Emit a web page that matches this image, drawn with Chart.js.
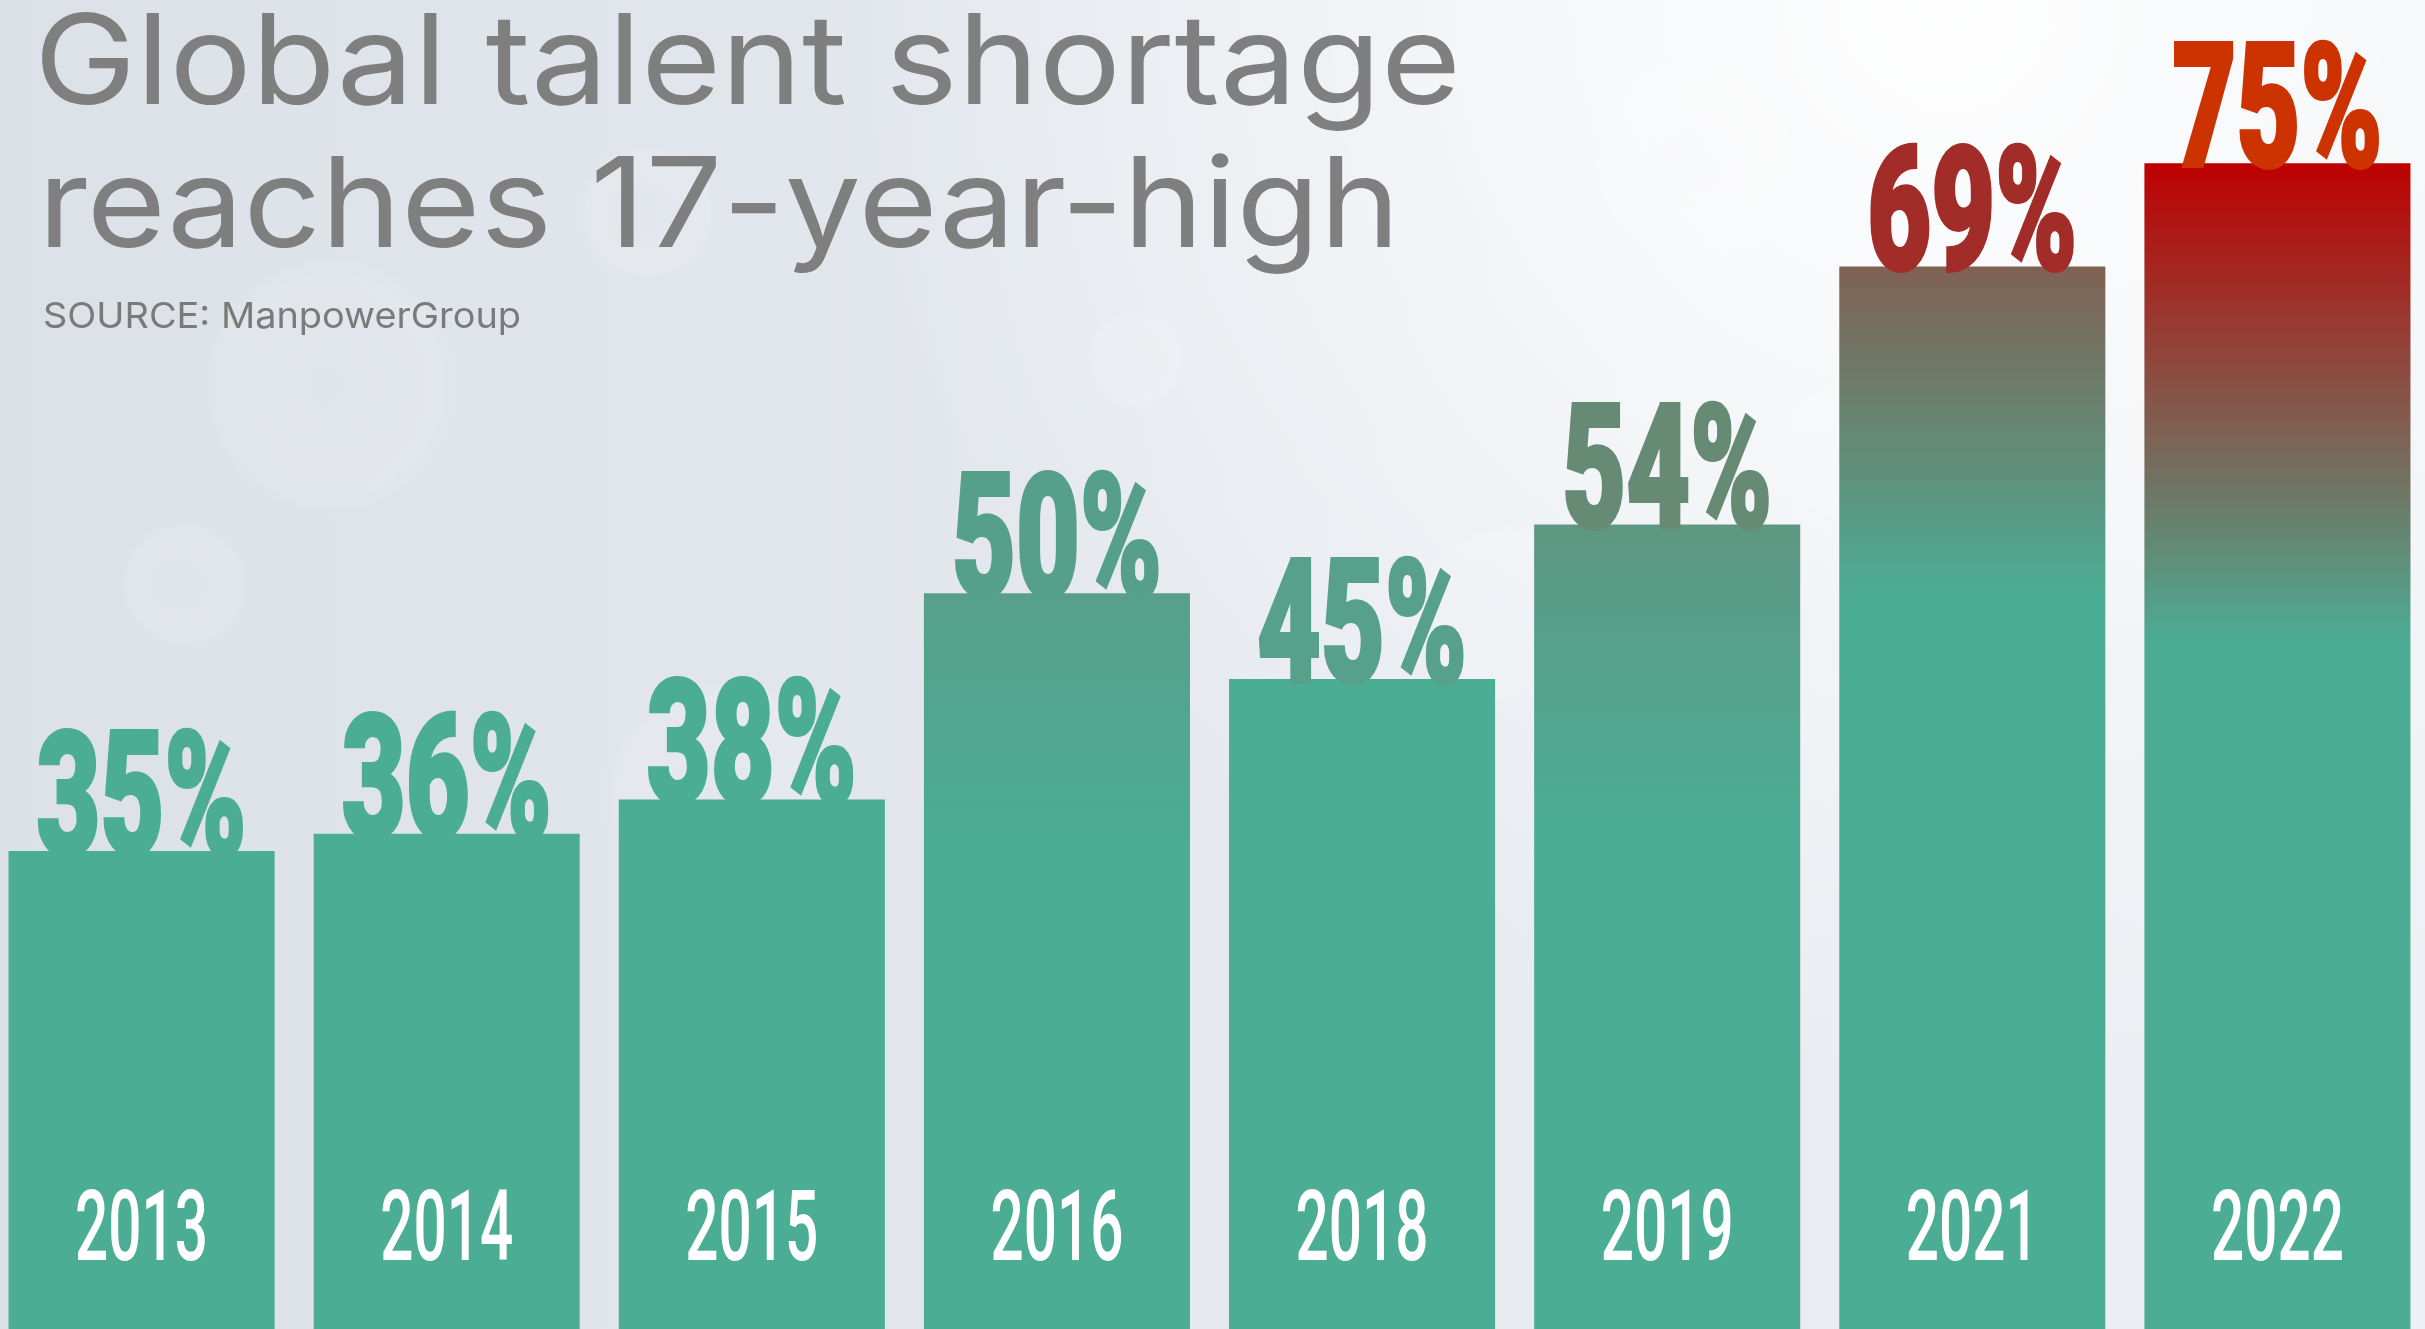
<!DOCTYPE html>
<html>
<head>
<meta charset="utf-8">
<title>Global talent shortage</title>
<script src="https://cdn.jsdelivr.net/npm/chart.js@4/dist/chart.umd.min.js"></script>
<style>
    html, body { margin: 0; padding: 0; overflow: hidden; background: #e4e8ee; }
    canvas { display: block; margin-left: -11px; }
</style>
</head>
<body>
<canvas id="shortageChart" width="2441" height="1329"></canvas>
<script>
// Datos
const years = ['2013', '2014', '2015', '2016', '2018', '2019', '2021', '2022'];
const shortage = [35, 36, 38, 50, 45, 54, 69, 75];
const titleLines = ['Global talent shortage', 'reaches 17-year-high'];
const sourceText = 'SOURCE: ManpowerGroup';

// Colores
const teal = '#4bad94';
const barTopColors = ['#4bad94', '#4bad94', '#4bad94', '#57a08a', '#4bad94', '#5e9782', '#806153', '#be0000'];
const barFade = [1, 1, 1, 260, 1, 300, 330, 480];
const labelColors = ['#4bad94', '#4bad94', '#4bad94', '#56a08a', '#57a18a', '#668a74', '#a22c28', '#cc3300'];

// el lienzo empieza 11px a la izquierda de la ventana
const shiftX = 11;

// fondo con reflejos
const backgroundPlugin = {
    id: 'background',
    beforeDraw(chart) {
        const c = chart.ctx, w = chart.width, h = chart.height;
        c.save();
        const g = c.createLinearGradient(0, 0, w, 0);
        g.addColorStop(0, '#dce1e8');
        g.addColorStop(0.5, '#e5e9ee');
        g.addColorStop(1, '#edf0f4');
        c.fillStyle = g;
        c.fillRect(0, 0, w, h);
        const r = c.createRadialGradient(w * 0.8, 0, 0, w * 0.8, 0, w * 0.45);
        r.addColorStop(0, 'rgba(255,255,255,0.95)');
        r.addColorStop(1, 'rgba(255,255,255,0)');
        c.fillStyle = r;
        c.fillRect(0, 0, w, h);
        const spots = [[0.14, 0.29, 130], [0.08, 0.44, 65], [0.27, 0.16, 70], [0.47, 0.27, 50],
                       [0.7, 0.12, 110], [0.76, 0.34, 70], [0.62, 0.46, 90], [0.3, 0.6, 120]];
        spots.forEach(s => {
            const x = s[0] * w, y = s[1] * h;
            const sg = c.createRadialGradient(x, y, 0, x, y, s[2]);
            sg.addColorStop(0, 'rgba(255,255,255,0.05)');
            sg.addColorStop(0.85, 'rgba(255,255,255,0.14)');
            sg.addColorStop(1, 'rgba(255,255,255,0)');
            c.beginPath();
            c.arc(x, y, s[2], 0, Math.PI * 2);
            c.fillStyle = sg;
            c.fill();
        });
        c.restore();
    }
};

// texto estrecho ajustado a un ancho
function drawText(c, text, x, y, font, color, targetWidth, align, stroke) {
    c.save();
    c.font = font;
    c.fillStyle = color;
    c.textBaseline = 'alphabetic';
    const w = c.measureText(text).width;
    const sx = targetWidth / w;
    c.translate(x, y);
    c.scale(sx, 1);
    c.textAlign = align;
    c.fillText(text, 0, 0);
    if (stroke) {
        c.strokeStyle = color;
        c.lineWidth = stroke;
        c.lineJoin = 'miter';
        c.strokeText(text, 0, 0);
    }
    c.restore();
}

// títulos, etiquetas de valor y años
const labelsPlugin = {
    id: 'labels',
    afterDatasetsDraw(chart) {
        const c = chart.ctx;
        drawText(c, titleLines[0], 34 + shiftX, 104, '400 125px Inter', '#7f7f7f', 1427, 'left');
        drawText(c, titleLines[1], 38 + shiftX, 247, '400 125px Inter', '#7f7f7f', 1362, 'left');
        drawText(c, sourceText, 43 + shiftX, 328, '400 36px Inter', '#7a7a7a', 478, 'left');

        const meta = chart.getDatasetMeta(0);
        meta.data.forEach((bar, i) => {
            drawText(c, shortage[i] + '%', bar.x, bar.y + 3, '900 172px Roboto', labelColors[i], 210, 'center', 4);
            drawText(c, years[i], bar.x, 1260, '500 98px Roboto', '#ffffff', 133, 'center');
        });
    }
};

new Chart(document.getElementById('shortageChart'), {
    type: 'bar',
    data: {
        labels: years,
        datasets: [{
            label: 'Global talent shortage',
            data: shortage,
            backgroundColor: function (ctx) {
                const i = ctx.dataIndex;
                const chart = ctx.chart;
                if (!chart.scales || !chart.scales.y || barFade[i] <= 1) return teal;
                const top = chart.scales.y.getPixelForValue(shortage[i]);
                const g = chart.ctx.createLinearGradient(0, top, 0, top + barFade[i]);
                g.addColorStop(0, barTopColors[i]);
                g.addColorStop(1, teal);
                return g;
            },
            borderWidth: 0,
            barPercentage: 0.872,
            categoryPercentage: 1
        }]
    },
    options: {
        responsive: false,
        devicePixelRatio: 1,
        animation: false,
        layout: { padding: 0 },
        plugins: {
            legend: { display: false },
            tooltip: { enabled: false },
            title: { display: false }
        },
        scales: {
            x: { display: false, offset: true },
            y: { display: false, min: 7.2, max: 84.5 }
        }
    },
    plugins: [backgroundPlugin, labelsPlugin]
});
</script>
</body>
</html>
